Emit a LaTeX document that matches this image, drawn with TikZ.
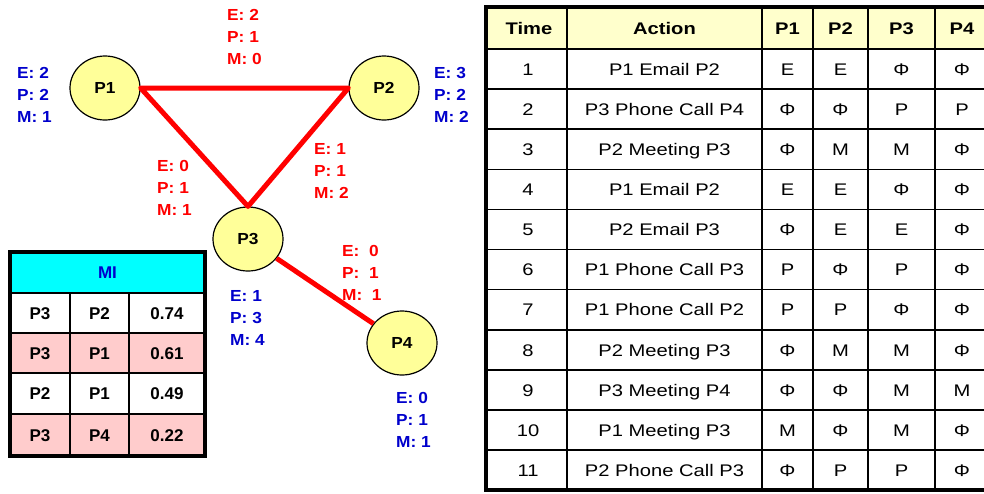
\documentclass[tikz,border=0pt]{standalone}
\usepackage{fontspec}
\setmainfont{Liberation Sans}
\newfontfamily\widefont[FakeStretch=1.2]{Liberation Sans}
\newfontfamily\labelfont[FakeStretch=1.08]{Liberation Sans}
\usetikzlibrary{shapes.geometric}

\definecolor{nodeyellow}{HTML}{FFFF99}
\definecolor{headyellow}{HTML}{FFFFCC}
\definecolor{lblue}{HTML}{0000CC}
\definecolor{pinkrow}{HTML}{FFCCCC}
\definecolor{micyan}{HTML}{00FFFF}

\begin{document}
\begin{tikzpicture}[x=1pt,y=-1pt,
  person/.style={ellipse, draw=black, line width=1.2pt, fill=nodeyellow,
    minimum width=70pt, minimum height=64pt, inner sep=0pt,
    font={\labelfont\fontsize{16}{19}\selectfont\bfseries}},
  link/.style={draw=red, line width=5pt},
  edgelbl/.style={anchor=west, align=left, inner sep=0pt, text=red,
    font={\labelfont\fontsize{16}{22}\selectfont\bfseries}},
  nodelbl/.style={edgelbl, text=lblue},
  tcell/.style={inner sep=0pt, anchor=base, font={\widefont\fontsize{16.8}{19}\selectfont}},
  thead/.style={tcell, font={\widefont\fontsize{16.8}{19}\selectfont\bfseries}},
  micell/.style={inner sep=0pt, anchor=base, font={\fontsize{17}{20}\selectfont\bfseries}},
  gridline/.style={line width=1.6pt},
  frame/.style={line width=3.5pt}
]
\useasboundingbox (0,0) rectangle (984,493);

% ---------- network ----------
\node[person] (p1) at (105,88) {P1};
\node[person] (p2) at (384,88) {P2};
\node[person] (p3) at (248,239) {P3};
\node[person] (p4) at (402,343) {P4};

\draw[link, line join=round] (p1.east) -- (p2.west) -- (p3.north) -- cycle;
\draw[link] (p3) -- (p4);

% interaction counts on the links
\node[edgelbl] (l12) at (227,37)  {E: 2\\P: 1\\M: 0};
\node[edgelbl] (l13) at (157,188) {E: 0\\P: 1\\M: 1};
\node[edgelbl] (l23) at (314,171) {E: 1\\P: 1\\M: 2};
\node[edgelbl] (l34) at (342,273) {E:\ \ 0\\P:\ \ 1\\M:\ \ 1};

% totals per person
\node[nodelbl] (t1) at (17,95)  {E: 2\\P: 2\\M: 1};
\node[nodelbl] (t2) at (434,95) {E: 3\\P: 2\\M: 2};
\node[nodelbl] (t3) at (230,318) {E: 1\\P: 3\\M: 4};
\node[nodelbl] (t4) at (396,420) {E: 0\\P: 1\\M: 1};

% ---------- MI table ----------
\fill[micyan] (10,252) rectangle (205,293);
\fill[pinkrow] (10,333) rectangle (205,373);
\fill[pinkrow] (10,414) rectangle (205,456);
\foreach \yy in {293,333,373,414} \draw[gridline] (10,\yy) -- (205,\yy);
\foreach \xx in {70,129} \draw[gridline] (\xx,293) -- (\xx,456);
\draw[frame] (10,252) rectangle (205,456);
\node[micell, text=lblue] (mihead) at (107.5,278.5) {MI};
\foreach \a/\b/\v/\yc [count=\r] in {P3/P2/0.74/319, P3/P1/0.61/359, P2/P1/0.49/399.5, P3/P4/0.22/441}{
  \node[micell] (mi-\r-1) at (40,\yc) {\a};
  \node[micell] (mi-\r-2) at (99.5,\yc) {\b};
  \node[micell] (mi-\r-3) at (167,\yc) {\v};
}

% ---------- action log ----------
\fill[headyellow] (486,7) rectangle (1000,49);
\foreach \k in {0,...,10} \draw[gridline] (486,49+40.1*\k) -- (1000,49+40.1*\k);
\foreach \xx in {567,762,813,868,935} \draw[gridline] (\xx,7) -- (\xx,490);
\draw[frame] (486,7) rectangle (1000,490);

\node[thead] (h-t)  at (529,34.5) {Time};
\node[thead] (h-a)  at (664.5,34.5) {Action};
\node[thead] (h-p1) at (787.5,34.5) {P1};
\node[thead] (h-p2) at (840.5,34.5) {P2};
\node[thead] (h-p3) at (901.5,34.5) {P3};
\node[thead] (h-p4) at (962,34.5) {P4};

\foreach \t/\act/\ca/\cb/\cc/\cd [count=\r] in {
  1/P1 Email P2/E/E/Φ/Φ,
  2/P3 Phone Call P4/Φ/Φ/P/P,
  3/P2 Meeting P3/Φ/M/M/Φ,
  4/P1 Email P2/E/E/Φ/Φ,
  5/P2 Email P3/Φ/E/E/Φ,
  6/P1 Phone Call P3/P/Φ/P/Φ,
  7/P1 Phone Call P2/P/P/Φ/Φ,
  8/P2 Meeting P3/Φ/M/M/Φ,
  9/P3 Meeting P4/Φ/Φ/M/M,
  10/P1 Meeting P3/M/Φ/M/Φ,
  11/P2 Phone Call P3/Φ/P/P/Φ}{
  \pgfmathsetmacro{\yc}{49+40.1*(\r-0.5)+6.3}
  \node[tcell] (r\r-t)  at (528,\yc) {\t};
  \node[tcell] (r\r-a)  at (664.5,\yc) {\act};
  \node[tcell] (r\r-p1) at (787.5,\yc) {\ca};
  \node[tcell] (r\r-p2) at (840.5,\yc) {\cb};
  \node[tcell] (r\r-p3) at (901.5,\yc) {\cc};
  \node[tcell] (r\r-p4) at (962,\yc) {\cd};
}
\end{tikzpicture}
\end{document}
